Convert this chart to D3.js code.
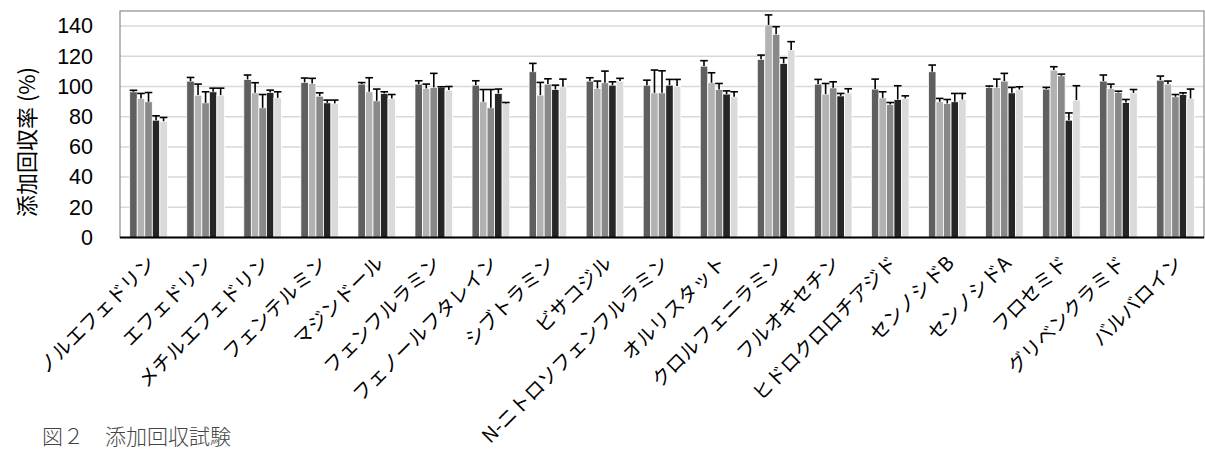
<!DOCTYPE html>
<html><head><meta charset="utf-8">
<script src="https://cdn.jsdelivr.net/npm/d3@7"></script>
<style>
html,body{margin:0;padding:0;background:#fff;}
svg{display:block;}
</style></head>
<body>
<svg id="chart" width="1205" height="450"></svg>
<script>
const categories = ["ノルエフェドリン","エフェドリン","メチルエフェドリン","フェンテルミン","マジンドール","フェンフルラミン","フェノールフタレイン","シブトラミン","ビサコジル","N-ニトロソフェンフルラミン","オルリスタット","クロルフェニラミン","フルオキセチン","ヒドロクロロチアジド","センノシドB","センノシドA","フロセミド","グリベンクラミド","バルバロイン"];

const series1 = [96.5,103.6,104.7,102.7,101.6,101.6,100.9,109.8,103.6,100.9,113.5,118.0,101.6,98.3,109.8,99.4,98.3,103.6,104.2];
const error1  = [1.0,2.4,2.9,2.9,1.0,2.2,2.9,5.5,2.2,3.3,3.6,2.8,3.1,6.6,4.4,0.9,1.1,4.0,2.7];
const series2 = [92.1,94.3,95.8,102.0,96.5,98.7,89.9,94.3,98.7,95.8,102.5,140.8,95.0,92.5,89.9,99.4,110.9,98.7,101.6];
const error2  = [3.3,7.3,6.7,3.4,9.3,2.9,8.1,8.4,4.9,15.1,6.6,6.6,7.0,4.0,2.2,5.5,2.2,2.9,2.0];
const series3 = [89.9,89.2,85.9,93.6,90.5,99.4,85.9,101.6,102.5,95.8,98.0,134.6,99.1,88.1,88.8,103.6,107.1,96.0,93.2];
const error3  = [6.1,7.3,8.8,2.2,7.8,9.3,12.1,3.5,7.7,14.6,4.0,5.0,4.0,1.3,2.6,5.1,1.1,0.9,1.5];
const series4 = [77.7,96.5,96.0,89.2,95.4,99.4,95.4,98.0,100.9,100.9,95.0,115.3,93.8,91.4,89.9,95.8,77.7,89.4,94.7];
const error4  = [2.9,2.4,1.6,1.8,1.1,0.4,2.9,2.9,2.2,3.8,2.1,3.7,1.6,9.1,5.5,3.6,4.8,2.0,1.1];
const series5 = [77.0,94.3,92.5,88.8,92.1,97.6,88.8,99.8,103.6,100.3,93.2,124.2,95.8,92.1,91.4,98.0,91.0,95.8,92.1];
const error5  = [2.5,4.6,4.0,2.2,2.6,2.4,0.6,5.1,1.8,4.4,3.3,5.5,2.7,1.7,4.0,1.8,9.5,2.2,6.2];

const yTicks = [0,20,40,60,80,100,120,140];
const yLabel = "添加回収率 (%)";
const caption = "図２　添加回収試験";

const seriesValues = [series1,series2,series3,series4,series5];
const seriesErrors = [error1,error2,error3,error4,error5];
const colors = ["#5f5f5f","#b2b2b2","#888888","#262626","#dadada"];

const svg = d3.select("#chart");
const L = 120, R = 1204, T = 11, B = 237.5;

const x = d3.scaleBand().domain(categories).range([L, R]).padding(0);
const gw = x.bandwidth()*0.66;
const xi = d3.scaleBand().domain(d3.range(5)).range([(x.bandwidth()-gw)/2, (x.bandwidth()+gw)/2]);
const y = d3.scaleLinear().domain([0,150]).range([B, T]);

// gridlines
svg.append("g").selectAll("line").data(yTicks.filter(d=>d>0)).join("line")
  .attr("x1", L).attr("x2", R).attr("y1", d=>y(d)).attr("y2", d=>y(d))
  .attr("stroke", "#d9d9d9").attr("stroke-width", 1.5);

// plot border
svg.append("rect").attr("x", L).attr("y", T).attr("width", R-L).attr("height", B-T)
  .attr("fill","none").attr("stroke","#8c8c8c").attr("stroke-width",1.2);

// bars
const data = [];
categories.forEach((c,i)=>{ seriesValues.forEach((s,k)=>{ data.push({c, k, v:s[i], e:seriesErrors[k][i]}); }); });

svg.append("g").selectAll("rect").data(data).join("rect")
  .attr("x", d=>x(d.c)+xi(d.k))
  .attr("y", d=>y(d.v))
  .attr("width", xi.bandwidth())
  .attr("height", d=>B-y(d.v))
  .attr("fill", d=>colors[d.k])
  .attr("stroke", "#fff").attr("stroke-width", 0.8);

// error bars
const eg = svg.append("g").attr("stroke","#000").attr("stroke-width",1.6);
data.forEach(d=>{
  const cx = x(d.c)+xi(d.k)+xi.bandwidth()/2;
  eg.append("line").attr("x1",cx).attr("x2",cx).attr("y1",y(d.v)).attr("y2",y(d.v+d.e));
  eg.append("line").attr("x1",cx-3.8).attr("x2",cx+3.8).attr("y1",y(d.v+d.e)).attr("y2",y(d.v+d.e));
});

// x axis line
svg.append("line").attr("x1",L).attr("x2",R).attr("y1",B).attr("y2",B)
  .attr("stroke","#000").attr("stroke-width",1.8);

// y tick labels
const yAxis = d3.axisLeft(y).tickValues(yTicks).tickSize(0).tickPadding(27);
const ya = svg.append("g").attr("transform",`translate(${L},0)`).call(yAxis);
ya.select(".domain").remove();
ya.selectAll("text").attr("font-family","'Liberation Sans', Arial, sans-serif").attr("font-size",21.5).attr("fill","#000");

// x labels
const xa = svg.append("g");
xa.selectAll("text").data(categories).join("text")
  .attr("transform", d=>`translate(${x(d)+x.bandwidth()/2+2},${B+21}) rotate(-45)`)
  .attr("text-anchor","end")
  .attr("dominant-baseline","central")
  .attr("font-family","'Noto Sans CJK JP', sans-serif")
  .attr("font-size",19.5)
  .attr("fill","#000")
  .text(d=>d);

// y label
svg.append("text")
  .attr("transform","translate(25,142) rotate(-90)")
  .attr("text-anchor","middle")
  .attr("dominant-baseline","central")
  .attr("font-family","'Noto Sans CJK JP', sans-serif")
  .attr("font-size",22)
  .attr("fill","#000")
  .text(yLabel);

// caption
svg.append("text")
  .attr("x",42).attr("y",444)
  .attr("font-family","'Noto Sans CJK JP', sans-serif")
  .attr("font-size",21)
  .attr("font-weight",300)
  .attr("fill","#444")
  .text(caption);
</script>
</body></html>
